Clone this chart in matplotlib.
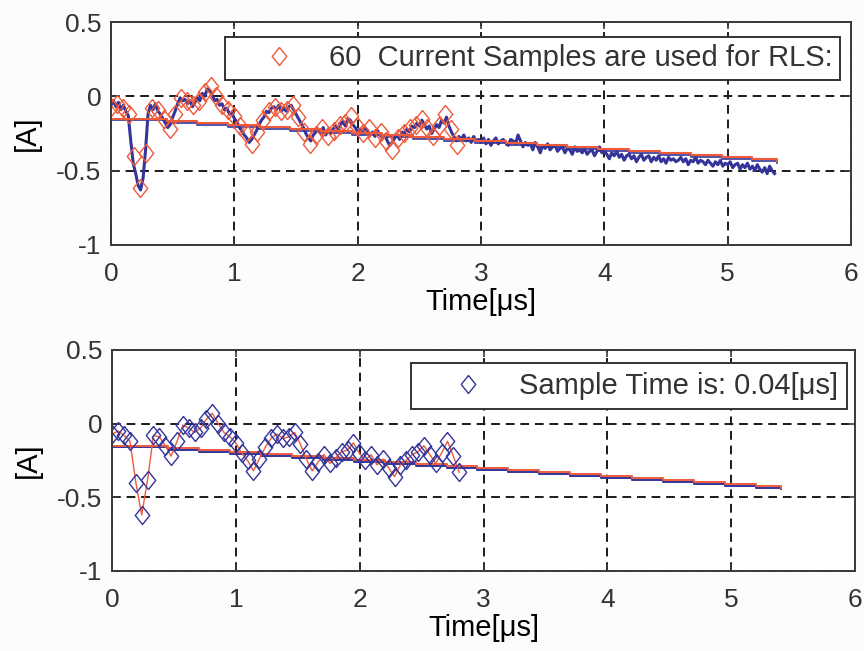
import numpy as np
import matplotlib.pyplot as plt

plt.rcParams.update({
    'font.family': 'Liberation Sans',
    'font.size': 19,
    'text.color': '#333333',
    'axes.edgecolor': '#3a3a3a',
    'axes.linewidth': 1.4,
    'xtick.color': '#3a3a3a',
    'ytick.color': '#3a3a3a',
    'xtick.labelcolor': '#333333',
    'ytick.labelcolor': '#333333',
})

# RLS input samples [A], one every sample_dt [us]
sample_dt = 0.0475
sample_current = [
    -0.07, -0.05, -0.08, -0.12, -0.40, -0.62, -0.38, -0.08, -0.09, -0.15,
    -0.22, -0.12, -0.01, -0.03, -0.06, -0.03, 0.03, 0.07, 0.00, -0.06,
    -0.09, -0.13, -0.20, -0.25, -0.32, -0.24, -0.16, -0.10, -0.07, -0.10,
    -0.09, -0.06, -0.14, -0.24, -0.32, -0.26, -0.21, -0.27, -0.23, -0.19,
    -0.18, -0.13, -0.20, -0.25, -0.21, -0.28, -0.24, -0.30, -0.36, -0.28,
    -0.25, -0.21, -0.19, -0.15, -0.21, -0.27, -0.20, -0.12, -0.22, -0.33,
]

# measured current trace [A], one point every trace_dt [us]
trace_dt = 0.02
trace_current = [
    -0.06, -0.03, -0.07, -0.04, -0.09, -0.06, -0.10, -0.13, -0.30, -0.45,
    -0.52, -0.60, -0.63, -0.55, -0.36, -0.12, -0.06, -0.09, -0.05, -0.10,
    -0.12, -0.15, -0.18, -0.21, -0.19, -0.14, -0.10, -0.05, -0.01, -0.03,
    -0.02, -0.05, -0.03, -0.07, -0.04, -0.01, -0.03, 0.02, 0.00, 0.05,
    0.04, 0.01, -0.03, -0.02, -0.06, -0.05, -0.09, -0.08, -0.12, -0.11,
    -0.15, -0.17, -0.21, -0.23, -0.26, -0.28, -0.31, -0.29, -0.26, -0.23,
    -0.19, -0.16, -0.14, -0.10, -0.11, -0.08, -0.07, -0.09, -0.06, -0.10,
    -0.08, -0.10, -0.07, -0.06, -0.09, -0.12, -0.15, -0.18, -0.21, -0.25,
    -0.28, -0.30, -0.26, -0.24, -0.22, -0.25, -0.21, -0.26, -0.23, -0.25,
    -0.22, -0.20, -0.23, -0.19, -0.17, -0.20, -0.15, -0.16, -0.19, -0.21,
    -0.24, -0.22, -0.25, -0.21, -0.23, -0.26, -0.24, -0.27, -0.23, -0.26,
    -0.28, -0.26, -0.30, -0.33, -0.31, -0.28, -0.26, -0.29, -0.24, -0.25,
    -0.22, -0.24, -0.20, -0.21, -0.18, -0.20, -0.16, -0.19, -0.22, -0.20,
    -0.25, -0.22, -0.19, -0.21, -0.16, -0.18, -0.14, -0.20, -0.24, -0.27,
    -0.30, -0.27, -0.29, -0.26, -0.30, -0.28, -0.31, -0.27, -0.30, -0.29,
    -0.31, -0.28, -0.32, -0.29, -0.33, -0.30, -0.28, -0.32, -0.30, -0.29,
    -0.31, -0.33, -0.29, -0.30, -0.32, -0.26, -0.30, -0.34, -0.31, -0.33,
    -0.32, -0.36, -0.31, -0.34, -0.38, -0.33, -0.35, -0.32, -0.36, -0.34,
    -0.33, -0.37, -0.35, -0.34, -0.38, -0.35, -0.36, -0.39, -0.34, -0.37,
    -0.36, -0.38, -0.35, -0.39, -0.37, -0.36, -0.40, -0.37, -0.34, -0.38,
    -0.37, -0.39, -0.42, -0.38, -0.40, -0.37, -0.41, -0.39, -0.43, -0.40,
    -0.39, -0.42, -0.40, -0.44, -0.41, -0.39, -0.43, -0.41, -0.40, -0.44,
    -0.41, -0.43, -0.40, -0.44, -0.42, -0.45, -0.41, -0.43, -0.42, -0.44,
    -0.43, -0.41, -0.44, -0.42, -0.46, -0.43, -0.44, -0.41, -0.45, -0.43,
    -0.44, -0.46, -0.43, -0.45, -0.47, -0.44, -0.46, -0.43, -0.47, -0.45,
    -0.46, -0.44, -0.48, -0.46, -0.45, -0.49, -0.46, -0.48, -0.45, -0.49,
    -0.47, -0.50, -0.46, -0.49, -0.51, -0.48, -0.52, -0.47, -0.50, -0.52,
]

# RLS fitted trend, held between update times [us]
fit_time = [0.0, 0.45, 0.70, 0.95, 1.20, 1.45, 1.70, 1.95, 2.20, 2.45, 2.70,
            2.95, 3.20, 3.45, 3.70, 3.95, 4.20, 4.45, 4.70, 4.95, 5.20, 5.40]
fit_red = [-0.150, -0.168, -0.181, -0.195, -0.208, -0.222, -0.235, -0.249,
           -0.262, -0.276, -0.289, -0.303, -0.316, -0.330, -0.343, -0.357,
           -0.370, -0.384, -0.397, -0.411, -0.424, -0.435]
fit_blue = [-0.158, -0.178, -0.192, -0.206, -0.219, -0.233, -0.246, -0.260,
            -0.273, -0.287, -0.300, -0.314, -0.327, -0.341, -0.354, -0.368,
            -0.381, -0.395, -0.408, -0.422, -0.435, -0.446]

x_ticks = [0, 1, 2, 3, 4, 5, 6]
y_ticks = [-1, -0.5, 0, 0.5]
y_tick_labels = ['-1', '-0.5', '0', '0.5']

n_samples = len(sample_current)
legend_top = f"{n_samples}  Current Samples are used for RLS:"
legend_bottom = "Sample Time is: 0.04[\u03bcs]"

RED = '#ee5a3a'
NAVY = '#34349a'
# diamond a bit taller than wide
DIAMOND = [(0, 1), (0.8, 0), (0, -1), (-0.8, 0), (0, 1)]

sample_time = np.arange(n_samples) * sample_dt
trace_time = np.arange(len(trace_current)) * trace_dt

fig = plt.figure(figsize=(8.64, 6.51), dpi=100, facecolor='#fcfcfd')
ax1 = fig.add_axes([0.1285, 0.6237, 0.8565, 0.3425])
ax2 = fig.add_axes([0.1300, 0.1229, 0.8596, 0.3395])


def style_axes(ax):
    ax.set_xlim(0, 6)
    ax.set_ylim(-1, 0.5)
    ax.set_xticks(x_ticks)
    ax.set_yticks(y_ticks)
    ax.set_yticklabels(y_tick_labels)
    ax.tick_params(direction='in', length=5, width=1.2, top=True, right=True)
    ax.tick_params(axis='x', pad=12)
    ax.tick_params(axis='y', pad=7)
    ax.grid(True, color='#1a1a1a', linestyle=(0, (4.5, 3)), linewidth=1.4)
    ax.set_axisbelow(True)
    ax.set_xlabel('Time[\u03bcs]', fontsize=21, labelpad=2)
    ax.set_ylabel('[A]', fontsize=21, labelpad=11)
    ax.set_facecolor('white')


# top: measured trace, samples and fitted trend
ax1.step(fit_time, fit_blue, where='post', color=NAVY, linewidth=1.2)
ax1.plot(trace_time, trace_current, color=NAVY, linewidth=2.2)
ax1.step(fit_time, fit_red, where='post', color=RED, linewidth=1.5)
pts1, = ax1.plot(sample_time, sample_current, linestyle='none', marker=DIAMOND,
                 markersize=13, markerfacecolor='none', markeredgecolor=RED,
                 markeredgewidth=1.0, label=legend_top)
style_axes(ax1)
ax1.legend(handles=[pts1], loc='upper right', bbox_to_anchor=(0.985, 0.933),
           borderaxespad=0, fontsize=21, handlelength=3.2, handletextpad=0.1,
           borderpad=0.25, fancybox=False, framealpha=1,
           edgecolor='#333333').get_frame().set_linewidth(1.4)

# bottom: samples only, with the fitted trend
ax2.step(fit_time, fit_blue, where='post', color=NAVY, linewidth=1.4)
ax2.step(fit_time, fit_red, where='post', color=RED, linewidth=1.4)
ax2.plot(sample_time, sample_current, color=RED, linewidth=1.0)
pts2, = ax2.plot(sample_time, sample_current, linestyle='none', marker=DIAMOND,
                 markersize=13, markerfacecolor='none', markeredgecolor=NAVY,
                 markeredgewidth=1.0, label=legend_bottom)
style_axes(ax2)
ax2.legend(handles=[pts2], loc='upper right', bbox_to_anchor=(0.989, 0.941),
           borderaxespad=0, fontsize=21, handlelength=3.3, handletextpad=0.1,
           borderpad=0.3, fancybox=False, framealpha=1,
           edgecolor='#333333').get_frame().set_linewidth(1.4)

fig.savefig('out.png', dpi=100, facecolor=fig.get_facecolor())
